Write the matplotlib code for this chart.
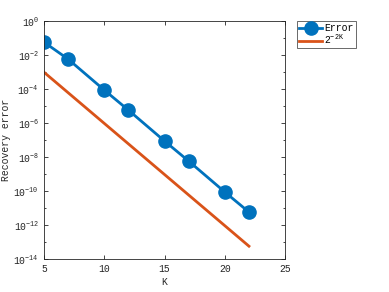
import matplotlib
matplotlib.use("Agg")
import matplotlib.pyplot as plt
from matplotlib.ticker import FixedLocator, NullFormatter

K = [5, 7, 10, 12, 15, 17, 20, 22]
err = [5.75e-2, 5.75e-3, 8.7e-5, 5.75e-6, 8.7e-8, 5.75e-9, 8.7e-11, 5.75e-12]
K_ref = [5, 22]
ref = [9.77e-4, 5.68e-14]
x_ticks = [5, 10, 15, 20, 25]
y_exps = list(range(-14, 1, 2))

plt.rcParams['font.family'] = ['Liberation Mono', 'DejaVu Sans']
plt.rcParams['mathtext.fontset'] = 'custom'
plt.rcParams['mathtext.rm'] = 'Liberation Mono'
plt.rcParams['mathtext.it'] = 'Liberation Mono'

fig = plt.figure(figsize=(3.89, 2.92), dpi=100)
ax = fig.add_axes([0.113, 0.113, 0.62, 0.815])
ax.plot(K, err, '-o', color='#0072BD', lw=2, ms=9.5, label='Error')
ax.plot(K_ref, ref, '-', color='#D95319', lw=2, label='$2^{-2K}$')
ax.set_yscale('log')
ax.set_xlim(5, 25)
ax.set_ylim(1e-14, 1)
ax.set_xticks(x_ticks)
ax.yaxis.set_major_locator(FixedLocator([10.0**e for e in y_exps]))
ax.yaxis.set_minor_locator(FixedLocator([10.0**e for e in range(-13, 0, 2)]))
ax.yaxis.set_minor_formatter(NullFormatter())
ax.set_yticklabels(['$10^{%d}$' % e for e in y_exps])
ax.tick_params(direction='in', which='both', top=True, right=True, labelsize=7,
               colors='#262626', length=3, width=0.6)
ax.tick_params(which='minor', length=1.5)
for s in ax.spines.values():
    s.set_color('#262626')
    s.set_linewidth(0.6)
ax.set_xlabel('K', fontsize=7, color='#262626', labelpad=2)
ax.set_ylabel('Recovery error', fontsize=7, color='#262626', labelpad=2)
leg = ax.legend(loc='upper left', bbox_to_anchor=(1.05, 1.0), fontsize=7, frameon=True,
                fancybox=False, edgecolor='#262626', borderaxespad=0, handlelength=2.4,
                borderpad=0.2, labelspacing=0.0, handletextpad=0.2)
leg.get_frame().set_linewidth(0.6)
fig.savefig('out.png', dpi=100)
